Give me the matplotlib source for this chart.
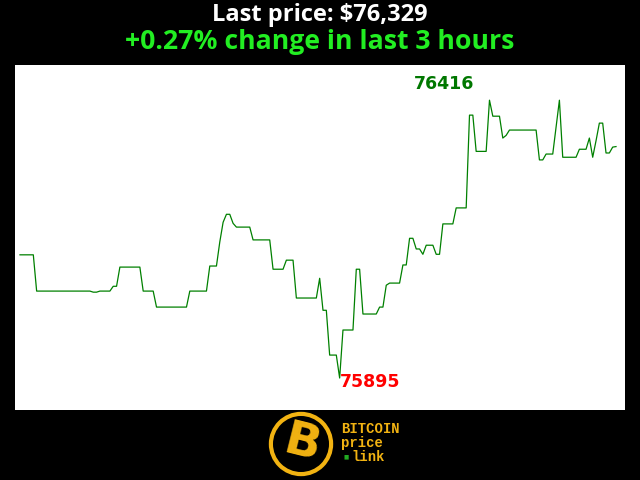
import matplotlib.pyplot as plt
import numpy as np
from matplotlib.patches import Circle

# price samples, one per minute over the last 3 hours
prices = [
    76126, 76126, 76126, 76126, 76126,
    76058, 76058, 76058, 76058, 76058, 76058, 76058, 76058, 76058, 76058,
    76058, 76058, 76058, 76058, 76058, 76058, 76058,
    76056, 76056,
    76058, 76058, 76058, 76058,
    76067, 76067,
    76103, 76103, 76103, 76103, 76103, 76103, 76103,
    76058, 76058, 76058, 76058,
    76028, 76028, 76028, 76028, 76028, 76028, 76028, 76028, 76028, 76028,
    76058, 76058, 76058, 76058, 76058, 76058,
    76105, 76105, 76105,
    76150, 76187, 76202, 76202, 76185,
    76178, 76178, 76178, 76178, 76178,
    76154, 76154, 76154, 76154, 76154, 76154,
    76099, 76099, 76099, 76099,
    76116, 76116, 76116,
    76045, 76045, 76045, 76045, 76045, 76045, 76045,
    76082, 76022, 76022,
    75938, 75938, 75938, 75895,
    75985, 75985, 75985, 75985,
    76099, 76099,
    76015, 76015, 76015, 76015, 76015,
    76028, 76028, 76069,
    76073, 76073, 76073, 76073,
    76107, 76107, 76157, 76157, 76137, 76137, 76127,
    76144, 76144, 76144, 76127, 76127,
    76184, 76184, 76184, 76184,
    76214, 76214, 76214, 76214,
    76388, 76388,
    76320, 76320, 76320, 76320,
    76416, 76386, 76386, 76386, 76345, 76350,
    76360, 76360, 76360, 76360, 76360, 76360, 76360, 76360, 76360,
    76304, 76304, 76315, 76315, 76315, 76365, 76416,
    76309, 76309, 76309, 76309, 76309,
    76324, 76324, 76324, 76345, 76309, 76340,
    76373, 76373, 76317, 76317, 76328, 76329,
]

title_line1 = 'Last price: $76,329'
title_line2 = '+0.27% change in last 3 hours'
logo_lines = ['BITCOIN', 'price', 'link']

W, H = 640, 480
fig = plt.figure(figsize=(6.4, 4.8), dpi=100, facecolor='black')

# ===============
# Main price line
ax = fig.add_axes([15 / W, 70 / H, 610 / W, 345 / H])
ax.set_facecolor('white')
x = np.arange(len(prices))
y = np.array(prices)
ax.plot(x, y, color='#008000', lw=0.9)
ax.set_xlim(-1.5, len(prices) + 1.7)
ax.set_ylim(75835, 76482)
ax.set_xticks([])
ax.set_yticks([])
for s in ax.spines.values():
    s.set_visible(False)

imax = int(np.argmax(y))
imin = int(np.argmin(y))
ax.annotate(str(y[imax]), (x[imax], y[imax]), xytext=(-15, 16),
            textcoords='offset pixels', ha='right', va='center',
            fontsize=12.5, fontweight='bold', color='#007700')
ax.annotate(str(y[imin]), (x[imin], y[imin]), xytext=(0, -4),
            textcoords='offset pixels', ha='left', va='center',
            fontsize=12.5, fontweight='bold', color='#ff0000')

# Titles
fig.text(0.5, 1 - 15 / H, title_line1, ha='center', va='center',
         fontsize=17, fontweight='bold', color='white', family='Open Sans')
fig.text(0.5, 1 - 42 / H, title_line2, ha='center', va='center',
         fontsize=19.2, fontweight='bold', color='#22ee22', family='Open Sans')

# ===============
# Logo
gold = '#f2b312'
lax = fig.add_axes([266 / W, 1 - 479 / H, 70 / W, 70 / H])
lax.set_xlim(-1, 1)
lax.set_ylim(-1, 1)
lax.set_aspect('equal')
lax.axis('off')
lax.add_patch(Circle((0, 0), 0.86, fill=False, edgecolor=gold, lw=3))
lax.text(0.02, -0.02, 'B', ha='center', va='center', fontsize=34,
         fontweight='bold', color=gold, rotation=-14, family='DejaVu Sans')

for i, t in enumerate(logo_lines):
    xp = 341 if i < 2 else 351
    fig.text(xp / W, 1 - (429 + 14 * i) / H, t, ha='left', va='center',
             fontsize=10, fontweight='bold', color=gold,
             family='Liberation Mono')
fig.text(343 / W, 1 - 457 / H, '\u25a0', ha='left', va='center',
         fontsize=4, color='#22aa22')

fig.savefig('out.png', dpi=100, facecolor='black')
